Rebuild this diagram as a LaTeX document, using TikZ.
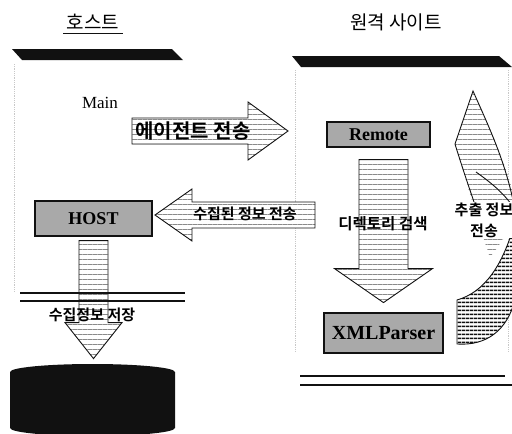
\documentclass[tikz,border=0pt]{standalone}
\usepackage{fontspec}
\setmainfont{Liberation Serif}
\newfontfamily\kr{Noto Sans CJK KR}[BoldFont={Noto Sans CJK KR Bold}]
\usetikzlibrary{positioning,calc,patterns,patterns.meta}
\definecolor{ink}{HTML}{111111}
\definecolor{shade}{HTML}{A9A9A9}
\definecolor{hatch}{HTML}{8A8A8A}
\definecolor{faint}{HTML}{C8C8C8}
\tikzset{
  ttl/.style={font=\kr\fontsize{19}{21}\selectfont},
  lbl/.style={font=\kr\bfseries\fontsize{15}{17}\selectfont, inner sep=1pt},
  gbox/.style={draw=ink, line width=1.2pt, fill=shade, inner sep=0pt,
               font=\bfseries\fontsize{18}{18}\selectfont},
  blk/.style={draw=ink, line width=0.9pt, preaction={fill=white},
              pattern={Lines[distance=5pt, line width=0.45pt]}, pattern color=hatch},
  bar/.style={fill=ink},
  dline/.style={draw=ink, line width=2.2pt},
  frm/.style={draw=faint, densely dotted, line width=0.8pt},
  pics/blkarr/.style args={#1/#2/#3/#4}{code={
    \path[blk] (0,-#2) -- (#1-#4,-#2) -- (#1-#4,-#3) -- (#1,0)
               -- (#1-#4,#3) -- (#1-#4,#2) -- (0,#2) -- cycle;
  }},
}

\begin{document}
\begin{tikzpicture}[x=1pt,y=-1pt]
\useasboundingbox (0,0) rectangle (512,434);

% titles and shelves
\node[ttl] (host) at (93,22) {호스트};
\draw[ink, line width=0.8pt] (host.south west) -- (host.south east);
\node[ttl] (site) at (396,22) {원격 사이트};
\fill[bar] (12,49) -- (172,49) -- (183,60) -- (22,60) -- cycle;
\fill[bar] (292,56) -- (499,56) -- (512,67) -- (301,67) -- cycle;

\draw[frm] (14,64) -- (14,292);
\draw[frm] (295,70) -- (295,352);
\draw[frm] (508,70) -- (508,352);

% boxes
\node[font=\fontsize{17}{17}\selectfont] (main) at (100,103) {Main};
\node[gbox, minimum width=103, minimum height=25] (remote) at (378.5,134.5) {Remote};
\node[gbox, minimum width=117, minimum height=35] (hostbox) at (93.5,218.5) {HOST};
\node[gbox, minimum width=119, minimum height=40,
      font=\bfseries\fontsize{20}{20}\selectfont] (xml) at (383.5,333) {XMLParser};

% block arrows
\pic at (132,131) {blkarr=156/13/29/40};
\node[lbl, font=\kr\bfseries\fontsize{20}{20}\selectfont] (send) at (193,131) {에이전트 전송};

\pic[rotate=180] at (315,215) {blkarr=160/13/26/37};
\node[lbl] (back) at (245,214) {수집된 정보 전송};

\pic[rotate=-90] at ($(remote.south)+(5,12)$) {blkarr=143/24.5/49/34};
\node[lbl, font=\kr\bfseries\fontsize{15.5}{17}\selectfont] (dir) at (383,224) {디렉토리 검색};

\pic[rotate=-90] at ($(hostbox.south)+(0,4)$) {blkarr=118/14.5/28.5/36};
\node[lbl] (save) at (92,315) {수집정보 저장};

\draw[dline] (20,293) -- (185,293);
\draw[dline] (20,301) -- (185,301);
\draw[dline] (300,376) -- (505,376);
\draw[dline] (300,385) -- (512,385);

% store
\fill[ink] (10,372) arc[start angle=180, end angle=360, x radius=82.5, y radius=8]
  -- (175,428) arc[start angle=0, end angle=180, x radius=82.5, y radius=8] -- cycle;

% curved return arrow
\path[preaction={fill=white}, pattern={Lines[distance=5pt, line width=0.45pt]}, pattern color=hatch]
  (473,91) -- (455,144) .. controls (463,170) and (470,195) .. (478,220)
  .. controls (484,240) .. (490,258) -- (515,222) -- (515,200)
  .. controls (505,160) and (488,125) .. (473,91) -- cycle;
\draw[ink, line width=0.9pt] (455,144) -- (473,91) .. controls (488,125) and (505,160) .. (514,205);
\draw[ink, line width=0.9pt] (455,144) .. controls (463,170) and (470,190) .. (475,205);
\draw[ink, line width=0.9pt] (476,172) .. controls (490,182) and (503,192) .. (514,208);
\path[draw=ink, line width=0.9pt, preaction={fill=white},
      pattern={Lines[distance=4pt, line width=2pt]}, pattern color=ink]
  (457,300) -- (457,344) .. controls (487,346) and (507,330) .. (515,300)
  -- (515,222) .. controls (503,265) and (485,292) .. (457,300) -- cycle;
\node[lbl, fill=white, align=center, inner sep=0.5pt,
      font=\kr\bfseries\fontsize{15}{21}\selectfont] (ext) at (484,220) {추출 정보\\전송};

\end{tikzpicture}
\end{document}
